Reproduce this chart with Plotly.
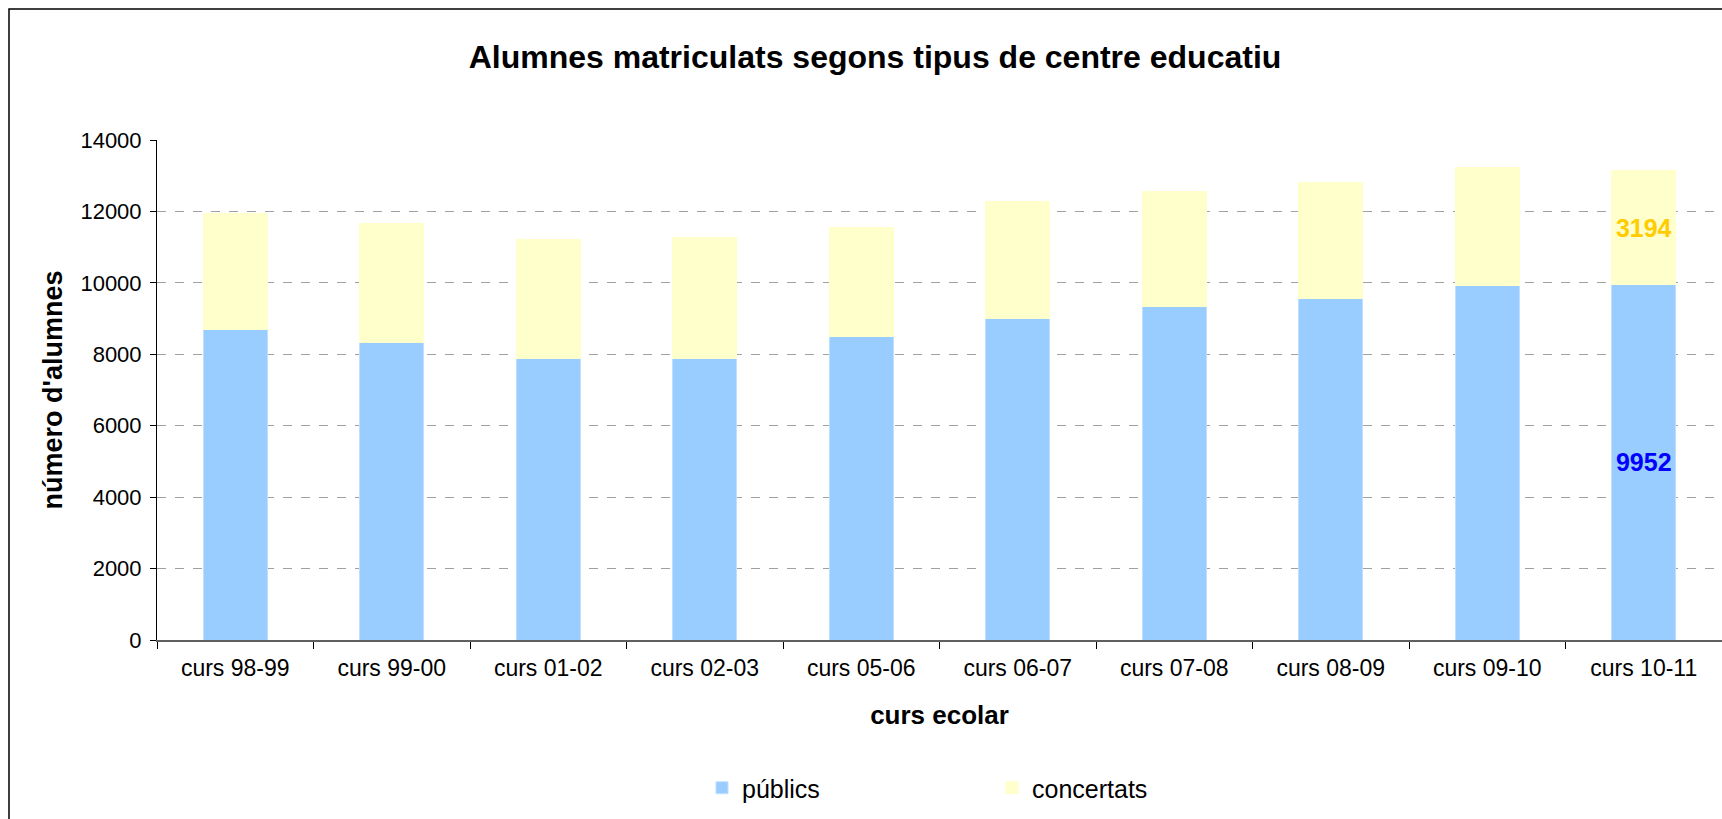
import plotly.graph_objects as go

categories = ["curs 98-99", "curs 99-00", "curs 01-02", "curs 02-03", "curs 05-06",
              "curs 06-07", "curs 07-08", "curs 08-09", "curs 09-10", "curs 10-11"]
publics = [8700, 8320, 7870, 7870, 8485, 8990, 9325, 9550, 9940, 9952]
concertats = [3250, 3350, 3350, 3405, 3070, 3300, 3245, 3250, 3295, 3194]
y_ticks = [0, 2000, 4000, 6000, 8000, 10000, 12000, 14000]

FONT = "Liberation Sans, Arial, sans-serif"
W, H = 1722, 819
ML, MR, MT, MB = 157, 0, 140, 179
PW = W - ML - MR
PH = H - MT - MB

last = len(categories) - 1
pub_text = [str(v) if i == last else "" for i, v in enumerate(publics)]
con_text = [str(v) if i == last else "" for i, v in enumerate(concertats)]

fig = go.Figure()
fig.add_trace(go.Bar(
    name="públics", x=categories, y=publics,
    marker=dict(color="#99CCFF", line=dict(color="#BFDFFF", width=1)),
    text=pub_text, textposition="inside", insidetextanchor="middle", textangle=0,
    textfont=dict(family=FONT, size=25, color="#0000FF", weight="bold"),
    constraintext="none", cliponaxis=False, hoverinfo="skip",
))
fig.add_trace(go.Bar(
    name="concertats", x=categories, y=concertats,
    marker=dict(color="#FFFFCC", line=dict(color="#FFFFCC", width=1)),
    text=con_text, textposition="inside", insidetextanchor="middle", textangle=0,
    textfont=dict(family=FONT, size=25, color="#FFCC00", weight="bold"),
    constraintext="none", cliponaxis=False, hoverinfo="skip",
))

# outer chart border (extends past the right and bottom of the window)
bx0 = (9 - ML) / PW
by1 = 1 + (MT - 9) / PH
fig.add_shape(type="rect", xref="paper", yref="paper",
              x0=bx0, x1=1.2, y0=-1.0, y1=by1,
              line=dict(color="#000000", width=1.5), fillcolor="rgba(0,0,0,0)",
              layer="below")

fig.update_layout(
    width=W, height=H,
    margin=dict(l=ML, r=MR, t=MT, b=MB, pad=0),
    paper_bgcolor="white", plot_bgcolor="white",
    barmode="stack", bargap=0.59,
    font=dict(family=FONT, color="#000000"),
    title=dict(text="Alumnes matriculats segons tipus de centre educatiu",
               font=dict(family=FONT, size=32, color="#000000", weight="bold"),
               xref="container", x=875 / W, xanchor="center",
               yref="container", y=1 - 57 / H, yanchor="middle"),
    showlegend=True,
    legend=dict(orientation="h", x=(702 - ML) / PW, xanchor="left",
                y=-(788 - (MT + PH)) / PH, yanchor="middle",
                font=dict(family=FONT, size=25, color="#000000"),
                entrywidth=245, entrywidthmode="pixels",
                traceorder="normal", bgcolor="rgba(0,0,0,0)"),
    xaxis=dict(
        type="category", showgrid=False,
        showline=True, linecolor="#606060", linewidth=2,
        ticks="outside", tickson="boundaries", ticklen=7, tickcolor="#000000",
        tickfont=dict(family=FONT, size=23, color="#000000"),
        ticklabelstandoff=6,
        title=dict(text="curs ecolar", standoff=26,
                   font=dict(family=FONT, size=26, color="#000000", weight="bold")),
    ),
    yaxis=dict(
        range=[0, 14000], tickvals=y_ticks, ticktext=[str(v) for v in y_ticks],
        showgrid=True, gridcolor="#A0A0A0", griddash="dash", gridwidth=1,
        zeroline=False,
        showline=True, linecolor="#000000", linewidth=1,
        ticks="outside", ticklen=6, tickcolor="#000000",
        tickfont=dict(family=FONT, size=22, color="#000000"),
        ticklabelstandoff=4,
        title=dict(text="número d'alumnes", standoff=9,
                   font=dict(family=FONT, size=27, color="#000000", weight="bold")),
    ),
)

fig.write_html("out.html", config={"displayModeBar": False},
               post_script="document.body.style.margin='0px';")
